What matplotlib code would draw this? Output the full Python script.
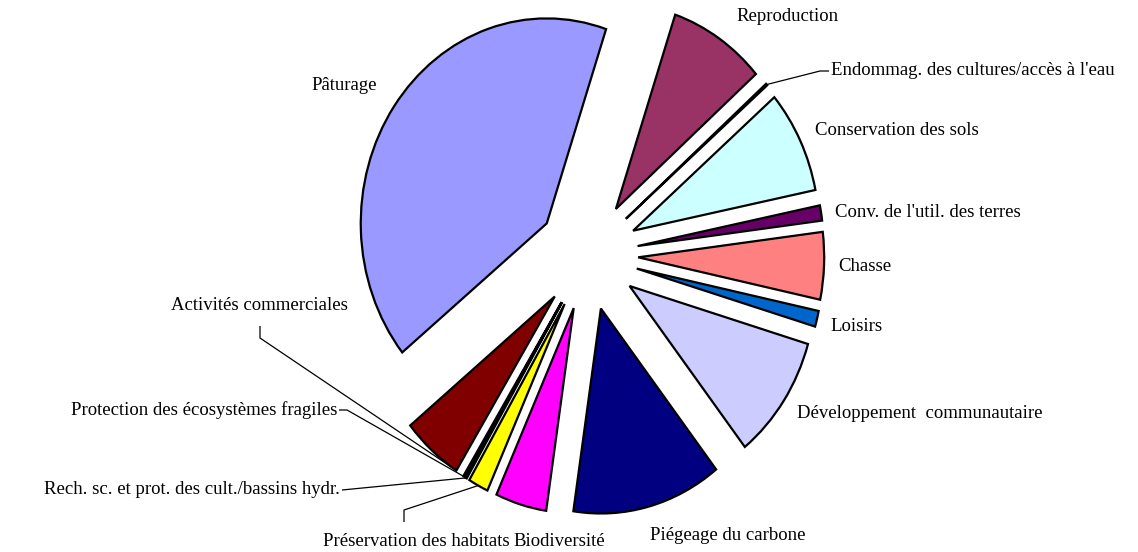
import numpy as np
import matplotlib
matplotlib.use("Agg")
import matplotlib.pyplot as plt

# ---- data ----
categories = [
    "Pâturage", "Reproduction", "Endommag. des cultures/accès à l'eau",
    "Conservation des sols", "Conv. de l'util. des terres", "Chasse", "Loisirs",
    "Développement  communautaire", "Piégeage du carbone", "Biodiversité",
    "Préservation des habitats", "Rech. sc. et prot. des cult./bassins hydr.",
    "Protection des écosystèmes fragiles", "Activités commerciales",
]
values = [41.0, 8.4, 0.15, 8.1, 1.2, 5.3, 1.25, 9.8, 13.0, 4.45, 1.75, 0.15, 0.15, 5.3]
colors = ["#9999FF", "#993366", "#FFFFCC", "#CCFFFF", "#660066", "#FF8080", "#0066CC",
          "#CCCCFF", "#000080", "#FF00FF", "#FFFF00", "#00FFFF", "#800080", "#800000"]

# ---- layout ----
W, H = 1138, 552
CX, CY = 588, 255      # pie centre in pixels
RX, RY = 186, 205      # radii in pixels (slightly elliptical like the original)

fig = plt.figure(figsize=(W / 100, H / 100), dpi=100)
ax = fig.add_axes([0, 0, 1, 1])
wedges, _ = ax.pie(values, explode=[0.27] * len(values), colors=colors,
                   startangle=219, counterclock=False, radius=1,
                   wedgeprops=dict(edgecolor="black", linewidth=1.6))
ax.set_aspect("auto")
ax.set_xlim(-CX / RX, (W - CX) / RX)
ax.set_ylim(-(H - CY) / RY, CY / RY)
ax.axis("off")


def P(x, y):
    return (x - CX) / RX, (CY - y) / RY


def outer(w, frac=0.5):
    th = np.radians(w.theta1 + (w.theta2 - w.theta1) * frac)
    cx, cy = w.center
    return cx + w.r * np.cos(th), cy + w.r * np.sin(th)


font = dict(family=["Liberation Serif", "DejaVu Serif"], size=13.5, color="black")

# label placements: (x px, y px, ha)
label_pos = {
    0: (344, 86, "center"),
    1: (736, 17, "left"),
    2: (831, 71, "left"),
    3: (815, 131, "left"),
    4: (835, 213, "left"),
    5: (838, 267, "left"),
    6: (830, 327, "left"),
    7: (797, 414, "left"),
    8: (650, 536, "left"),
    9: (513, 542, "left"),
    10: (510, 542, "right"),
    11: (340, 490, "right"),
    12: (337, 410, "right"),
    13: (259, 306, "center"),
}
for i, (x, y, ha) in label_pos.items():
    ax.text(*P(x, y), categories[i], ha=ha, va="center", **font)

# leader lines (elbow points in px, end on wedge)
lw = 0.9
leaders = [
    (2, [(829, 71), (820, 71)], 0.5),
    (11, [(342, 490)], 0.5),
    (12, [(339, 410), (347, 410)], 0.5),
    (13, [(260, 326), (260, 338)], 0.99),
    (10, [(404, 522), (404, 510)], 0.5),
]
for i, pts, frac in leaders:
    xs = [P(*p)[0] for p in pts]
    ys = [P(*p)[1] for p in pts]
    ex, ey = outer(wedges[i], frac)
    xs.append(ex)
    ys.append(ey)
    ax.plot(xs, ys, color="black", lw=lw, solid_capstyle="butt")

fig.savefig("out.png", dpi=100)
